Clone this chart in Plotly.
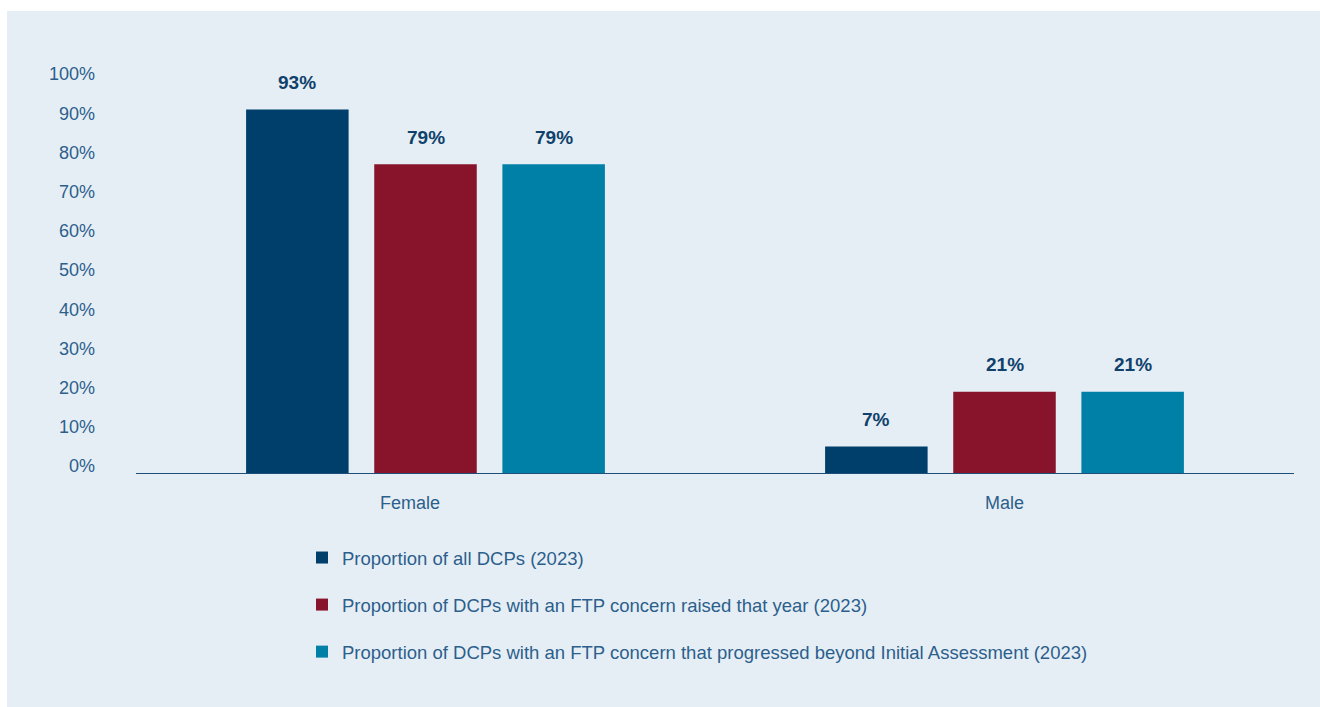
import plotly.graph_objects as go

W, H = 1320, 707
categories = ["Female", "Male"]
series_names = [
    "Proportion of all DCPs (2023)",
    "Proportion of DCPs with an FTP concern raised that year (2023)",
    "Proportion of DCPs with an FTP concern that progressed beyond Initial Assessment (2023)",
]
all_dcps = [93, 7]
ftp_raised = [79, 21]
ftp_progressed = [79, 21]
series_values = [all_dcps, ftp_raised, ftp_progressed]
colors = ["#003f6b", "#87142b", "#0080a6"]
tick_vals = [0, 10, 20, 30, 40, 50, 60, 70, 80, 90, 100]
tick_text = [f"{v}%" for v in tick_vals]
category_label_xshift = [-16, 0]

L, R, T, B = 136, 26, 82, 233
BG = "#e6eef5"
TXT = "#2c5f8c"
LABEL = "#0f416c"
FONT = "Liberation Sans, Arial, sans-serif"

fig = go.Figure()
for i, (name, vals, col) in enumerate(zip(series_names, series_values, colors)):
    fig.add_trace(go.Bar(
        x=categories, y=vals, name=name, marker=dict(color=col, line=dict(width=0)),
        legendgroup=f"g{i}", hoverinfo="skip",
    ))

# value labels above bars (offset within group)
bargap, bargroupgap = 0.336, 0.2
slot = (1 - bargap) / len(series_values)
annotations = []
for i, vals in enumerate(series_values):
    off = (i - (len(series_values) - 1) / 2) * slot
    for j, v in enumerate(vals):
        annotations.append(dict(
            x=j + off, y=v, xref="x", yref="y", text=f"<b>{v}%</b>", showarrow=False,
            yshift=27, font=dict(family=FONT, size=19, color=LABEL),
        ))
for j, (cat, xs) in enumerate(zip(categories, category_label_xshift)):
    annotations.append(dict(
        x=j, y=0, xref="x", yref="y", text=cat, showarrow=False, xshift=xs, yshift=-29,
        font=dict(family=FONT, size=18, color=TXT),
    ))

plot_w = W - L - R
plot_h = H - T - B
px0 = (7 - L) / plot_w
px1 = (W - L) / plot_w
py1 = 1 + (T - 11) / plot_h
py0 = -(B) / plot_h

fig.update_layout(
    width=W, height=H,
    margin=dict(l=L, r=R, t=T, b=B, pad=0, autoexpand=False),
    paper_bgcolor="white", plot_bgcolor=BG,
    barmode="group", bargap=bargap, bargroupgap=bargroupgap,
    font=dict(family=FONT, size=18, color=TXT),
    showlegend=True,
    legend=dict(
        xref="container", yref="container", x=302 / W, y=1 - 539 / H,
        xanchor="left", yanchor="top", orientation="v", traceorder="grouped",
        tracegroupgap=20, font=dict(family=FONT, size=18.5, color=TXT),
        bgcolor="rgba(0,0,0,0)", itemclick=False,
    ),
    xaxis=dict(
        type="category", showgrid=False, zeroline=False, showline=False,
        ticks="", showticklabels=False, fixedrange=True,
    ),
    yaxis=dict(
        range=[0, 100], tickvals=tick_vals, ticktext=tick_text, showgrid=False,
        zeroline=False, showline=False, ticks="", ticklabelstandoff=40,
        ticklabelshift=-8,
        tickfont=dict(family=FONT, size=18, color=TXT), fixedrange=True,
    ),
    annotations=annotations,
    shapes=[
        dict(type="rect", xref="paper", yref="paper", x0=px0, x1=px1, y0=py0, y1=py1,
             fillcolor=BG, line=dict(width=0), layer="below"),
        dict(type="line", xref="paper", yref="y", x0=0, x1=1, y0=0, y1=0,
             line=dict(color="#1d4f7a", width=2), layer="above"),
    ],
)

fig.write_html(
    "out.html",
    config={"displayModeBar": False},
    post_script="document.body.style.margin='0';document.body.style.overflow='hidden';",
)
